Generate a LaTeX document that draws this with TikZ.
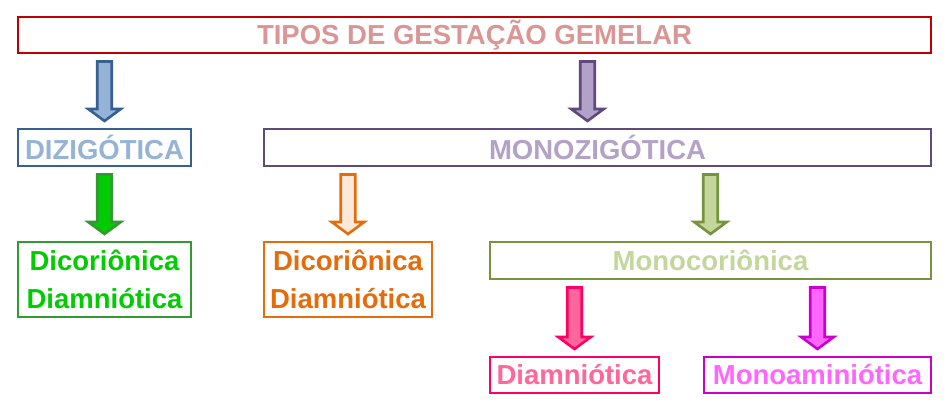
\documentclass[tikz,border=0pt]{standalone}
\usepackage{fontspec}
\setmainfont{Liberation Sans}
\usetikzlibrary{positioning,calc}
\definecolor{tiposln}{HTML}{C00000}
\definecolor{tipostx}{HTML}{DA9694}
\definecolor{bluln}{HTML}{376092}
\definecolor{blutx}{HTML}{95B3D7}
\definecolor{purln}{HTML}{604A7B}
\definecolor{purtx}{HTML}{B3A2C7}
\definecolor{grnln}{HTML}{339933}
\definecolor{grntx}{HTML}{00CC00}
\definecolor{orgln}{HTML}{E46C0A}
\definecolor{orgfl}{HTML}{FDE9D9}
\definecolor{olvln}{HTML}{77933C}
\definecolor{olvtx}{HTML}{C3D69B}
\definecolor{pnkln}{HTML}{FF0066}
\definecolor{pnktx}{HTML}{FF6699}
\definecolor{magln}{HTML}{CC00CC}
\definecolor{magtx}{HTML}{FF66FF}

\begin{document}
\begin{tikzpicture}[node distance=74pt and 0pt,
  box/.style={draw, line width=2pt, inner sep=2pt, align=center, minimum height=37pt,
    font=\fontsize{27.5}{38}\selectfont\bfseries},
  arr/.style 2 args={draw=#1, fill=#2, line width=2.6pt, to path={let \p1=(\tikztostart), \p2=(\tikztotarget) in
    (\x2-7.25pt,\y1-7.5pt) -- (\x2-7.25pt,\y2+19pt) -- (\x2-16.25pt,\y2+19pt) -- (\x2,\y2+7pt)
    -- (\x2+16.25pt,\y2+19pt) -- (\x2+7.25pt,\y2+19pt) -- (\x2+7.25pt,\y1-7.5pt) -- cycle}}]
  \useasboundingbox (0,0) rectangle (952pt,-416pt);
  \node[box, draw=tiposln, text=tipostx, minimum width=913pt, minimum height=36pt] (tipos) at (474.5pt,-35pt) {TIPOS DE GESTAÇÃO GEMELAR};
  \node[box, draw=bluln, text=blutx, minimum width=173pt, below=of tipos.south west, anchor=north west] (dizi) {DIZIGÓTICA};
  \node[box, draw=purln, text=purtx, minimum width=667pt, below=of tipos.south east, anchor=north east] (mono) {MONOZIGÓTICA};
  \node[box, draw=grnln, text=grntx, minimum width=173pt, minimum height=75pt, below=of dizi.south west, anchor=north west] (dicodi) {Dicoriônica\\ Diamniótica};
  \node[box, draw=orgln, text=orgln, minimum width=168pt, minimum height=75pt, below=of mono.south west, anchor=north west] (dicodm) {Dicoriônica\\ Diamniótica};
  \node[box, draw=olvln, text=olvtx, minimum width=441pt, below=of mono.south east, anchor=north east] (monoc) {Monocoriônica};
  \node[box, draw=pnkln, text=pnktx, minimum width=169pt, minimum height=36pt, below=76pt of monoc.south west, anchor=north west] (diam) {Diamniótica};
  \node[box, draw=magln, text=magtx, minimum width=227pt, minimum height=36pt, below=76pt of monoc.south east, anchor=north east] (monoa) {Monoaminiótica};
  \draw[arr={bluln}{blutx}] (tipos.south -| dizi.north) to (dizi.north);
  \draw[arr={purln}{purtx}] (tipos.south -| mono.north) to ([xshift=-10pt]mono.north);
  \draw[arr={grnln}{grntx}] (dizi.south) to (dicodi.north);
  \draw[arr={orgln}{orgfl}] (mono.south -| dicodm.north) to (dicodm.north);
  \draw[arr={olvln}{olvtx}] (mono.south -| monoc.north) to (monoc.north);
  \draw[arr={pnkln}{pnktx}] (monoc.south -| diam.north) to (diam.north);
  \draw[arr={magln}{magtx}] (monoc.south -| monoa.north) to (monoa.north);
\end{tikzpicture}
\end{document}
